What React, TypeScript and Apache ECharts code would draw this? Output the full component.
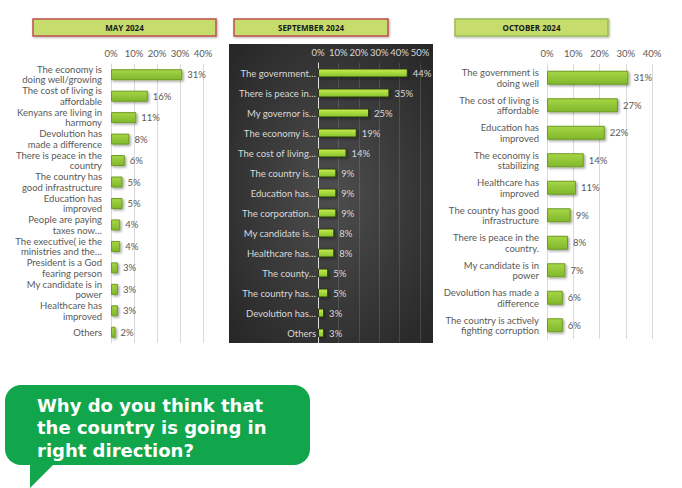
import React, { useEffect, useRef } from "react";
import * as echarts from "echarts";

const mayCategories = [
  "The economy is\ndoing well/growing",
  "The cost of living is\naffordable",
  "Kenyans are living in\nharmony",
  "Devolution has\nmade a difference",
  "There is peace in the\ncountry",
  "The country has\ngood infrastructure",
  "Education has\nimproved",
  "People are paying\ntaxes now…",
  "The executive( ie the\nministries and the…",
  "President is a God\nfearing person",
  "My candidate is in\npower",
  "Healthcare has\nimproved",
  "Others",
];
const mayValues = [31, 16, 11, 8, 6, 5, 5, 4, 4, 3, 3, 3, 2];

const sepCategories = [
  "The government…",
  "There is peace in…",
  "My governor is…",
  "The economy is…",
  "The cost of living…",
  "The country is…",
  "Education has…",
  "The corporation…",
  "My candidate is…",
  "Healthcare has…",
  "The county…",
  "The country has…",
  "Devolution has…",
  "Others",
];
const sepValues = [44, 35, 25, 19, 14, 9, 9, 9, 8, 8, 5, 5, 3, 3];

const octCategories = [
  "The government is\ndoing well",
  "The cost of living is\naffordable",
  "Education has\nimproved",
  "The economy is\nstabilizing",
  "Healthcare has\nimproved",
  "The country has good\ninfrastructure",
  "There is peace in the\ncountry.",
  "My candidate is in\npower",
  "Devolution has made a\ndifference",
  "The country is actively\nfighting corruption",
];
const octValues = [31, 27, 22, 14, 11, 9, 8, 7, 6, 6];

const panelTitles = ["MAY 2024", "SEPTEMBER 2024", "OCTOBER 2024"];
const questionLines = ["Why do you think that", "the country is going in", "right direction?"];

const FONT = "Lato, 'Open Sans', sans-serif";

function barGradient(light: string, dark: string) {
  return {
    type: "linear",
    x: 0,
    y: 0,
    x2: 0,
    y2: 1,
    colorStops: [
      { offset: 0, color: light },
      { offset: 1, color: dark },
    ],
  };
}

export default function App() {
  const ref = useRef<HTMLDivElement>(null);
  useEffect(() => {
    if (!ref.current) return;
    const chart = echarts.init(ref.current, null, { renderer: "svg" });

    const grayText = "#595959";
    const lightText = "#d9d9d9";

    const makeX = (gridIndex: number, max: number, dark: boolean) => ({
      type: "value",
      gridIndex,
      position: "top",
      min: 0,
      max,
      interval: 10,
      axisLine: { show: false },
      axisTick: { show: false },
      axisLabel: {
        formatter: "{value}%",
        color: dark ? lightText : grayText,
        fontSize: 9.5,
        fontFamily: FONT,
        margin: 6,
      },
      splitLine: {
        show: true,
        lineStyle: { color: dark ? "rgba(255,255,255,0.13)" : "#d9d9d9", width: 1 },
      },
    });

    const makeY = (gridIndex: number, data: string[], dark: boolean, margin: number) => ({
      type: "category",
      gridIndex,
      data,
      inverse: true,
      axisTick: { show: false },
      axisLine: { show: true, lineStyle: { color: dark ? "#e0e0e0" : "#d9d9d9", width: 1 } },
      axisLabel: {
        color: dark ? lightText : grayText,
        fontSize: 9.5,
        lineHeight: 10.5,
        fontFamily: FONT,
        margin,
        align: "right",
      },
    });

    const makeSeries = (idx: number, data: number[], barWidth: number, dark: boolean) => ({
      type: "bar",
      xAxisIndex: idx,
      yAxisIndex: idx,
      data,
      barWidth,
      itemStyle: {
        color: dark ? barGradient("#c6ec52", "#86c22a") : barGradient("#a6d645", "#80b72c"),
        borderColor: dark ? "#2e3a0e" : "#6f9a25",
        borderWidth: 1,
        shadowColor: "rgba(0,0,0,0.35)",
        shadowBlur: 2,
        shadowOffsetX: 1.5,
        shadowOffsetY: 1.5,
      },
      label: {
        show: true,
        position: "right",
        distance: 5,
        formatter: "{c}%",
        color: dark ? lightText : grayText,
        fontSize: 9.5,
        fontFamily: FONT,
      },
    });

    const header = (x: number, y: number, w: number, h: number, title: string, border: string) => [
      {
        type: "rect",
        shape: { x, y, width: w, height: h },
        style: {
          fill: "#c6dc6c",
          stroke: border,
          lineWidth: 1.5,
          shadowColor: "rgba(0,0,0,0.3)",
          shadowBlur: 2,
          shadowOffsetX: 1,
          shadowOffsetY: 1,
        },
        z: 1,
      },
      {
        type: "text",
        x: x + w / 2,
        y: y + h / 2,
        style: {
          text: title,
          fill: "#1a1a1a",
          fontSize: 8,
          fontWeight: "bold",
          fontFamily: "'Open Sans', sans-serif",
          align: "center",
          verticalAlign: "middle",
        },
        z: 2,
      },
    ];

    const questionTexts = questionLines.map((line, i) => ({
      type: "text",
      x: 37,
      y: 405 + i * 22.5,
      style: {
        text: line,
        fill: "#ffffff",
        fontSize: 18,
        lineHeight: 21,
        fontWeight: "bold",
        fontFamily: "'DejaVu Sans', sans-serif",
        verticalAlign: "middle",
      },
      z: 2,
    }));

    const option: any = {
      animation: false,
      backgroundColor: "#ffffff",
      grid: [
        { left: 111, top: 64, width: 92, height: 279, containLabel: false },
        { left: 318, top: 63, width: 102, height: 280, containLabel: false },
        { left: 547, top: 64, width: 105, height: 275, containLabel: false },
      ],
      xAxis: [makeX(0, 40, false), makeX(1, 50, true), makeX(2, 40, false)],
      yAxis: [
        makeY(0, mayCategories, false, 9),
        makeY(1, sepCategories, true, 2),
        makeY(2, octCategories, false, 8),
      ],
      series: [
        makeSeries(0, mayValues, 11, false),
        makeSeries(1, sepValues, 9, true),
        makeSeries(2, octValues, 14, false),
      ],
      graphic: {
        elements: [
          {
            type: "rect",
            shape: { x: 229, y: 44, width: 204, height: 299 },
            style: {
              fill: {
                type: "radial",
                x: 0.5,
                y: 0.5,
                r: 0.75,
                colorStops: [
                  { offset: 0, color: "#4e4e4e" },
                  { offset: 1, color: "#232323" },
                ],
              },
            },
            z: -10,
          },
          ...header(33, 19, 183, 17, panelTitles[0], "#c0504d"),
          ...header(234, 19, 154, 17, panelTitles[1], "#c0504d"),
          ...header(455, 19, 153, 17, panelTitles[2], "#9bbb59"),
          {
            type: "rect",
            shape: { x: 5, y: 385, width: 305, height: 80, r: 16 },
            style: { fill: "#11a64b" },
            z: 1,
          },
          {
            type: "polygon",
            shape: { points: [[30, 460], [30, 488], [58, 460]] },
            style: { fill: "#11a64b" },
            z: 1,
          },
          ...questionTexts,
        ],
      },
    };

    chart.setOption(option);
    return () => chart.dispose();
  }, []);

  return (
    <div
      ref={ref}
      style={{ position: "absolute", left: 0, top: 0, width: 682, height: 488 }}
    />
  );
}
